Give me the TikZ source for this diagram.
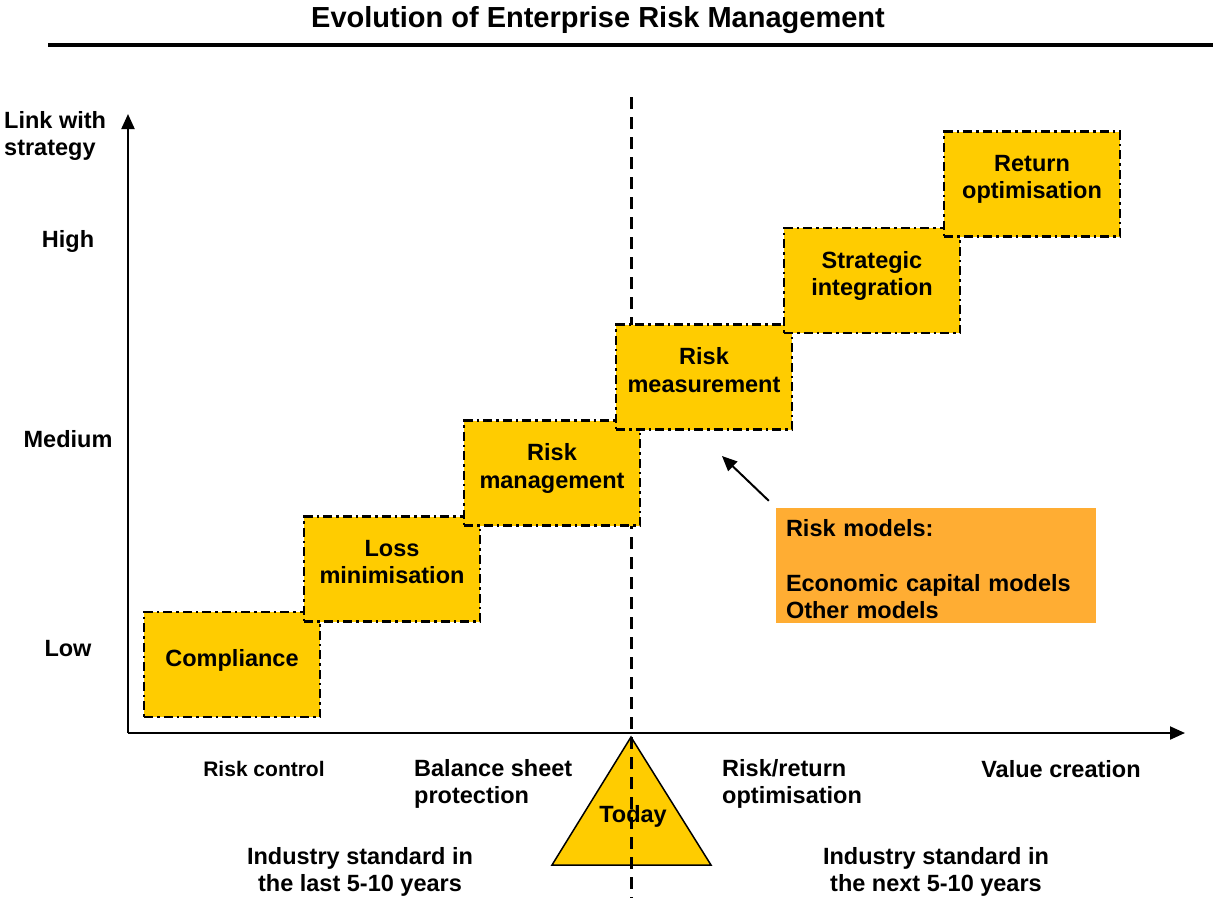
\documentclass[tikz,border=0pt]{standalone}
\usepackage{fontspec}
\setmainfont{Liberation Sans}
\usetikzlibrary{arrows.meta}
\definecolor{stageyellow}{HTML}{FFCC00}
\definecolor{modelorange}{HTML}{FFAD33}

\begin{document}
\begin{tikzpicture}[x=1pt,y=-1pt,>={Triangle[length=15pt,width=13pt]},
    every node/.style={font=\bfseries\fontsize{23.5}{27.5}\selectfont,inner sep=0pt},
    stage/.style={rectangle,fill=stageyellow,draw=black,line width=2.6pt,
      dash pattern=on 9pt off 4pt on 2.5pt off 4pt,minimum width=176pt,
      minimum height=105pt,text depth=14pt,align=center},
    axis/.style={line width=2pt,->}]
  \useasboundingbox (0,0) rectangle (1213,898);

  % title
  \node[font=\bfseries\fontsize{29}{34}\selectfont] (title) at (598,20) {Evolution of Enterprise Risk Management};
  \coordinate (rulel) at (48,45);
  \coordinate (ruler) at (1213,45);
  \draw[line width=4pt] (rulel) -- (ruler);

  % axes
  \coordinate (origin) at (128,733);
  \coordinate (ytop) at (128,114);
  \coordinate (xend) at (1185,733);
  \draw[axis] (origin) -- (ytop);
  \draw[axis] (origin) -- (xend);

  \node[align=left,anchor=west] (link) at (4,136) {Link with\\strategy};
  \node (high) at (68,241) {High};
  \node (medium) at (68,439) {Medium};
  \node (low) at (68,649) {Low};

  % today marker
  \coordinate (apex) at (631,737);
  \coordinate (basel) at (552,865);
  \coordinate (baser) at (711,865);
  \draw[fill=stageyellow,line width=1.5pt,line join=miter] (apex) -- (basel) -- (baser) -- cycle;
  \node (today) at (633,816) {Today};
  \coordinate (nowtop) at (631,97);
  \coordinate (nowbot) at (631,898);
  \draw[line width=3pt,dash pattern=on 12pt off 8pt] (nowtop) -- (nowbot);

  % stages
  \node[stage] (compliance) at (232,664.5) {Compliance};
  \node[stage] (loss) at (392,569) {Loss\\minimisation};
  \node[stage] (riskmgmt) at (552,473) {Risk\\management};
  \node[stage] (riskmeas) at (704,377) {Risk\\measurement};
  \node[stage] (strategic) at (872,280.5) {Strategic\\integration};
  \node[stage] (returnopt) at (1032,184) {Return\\optimisation};

  % risk models
  \node[fill=modelorange,minimum width=320pt,minimum height=115pt,text width=300pt,align=left] (models) at (936,565.5)
    {\rule{0pt}{24pt}Risk models:\\[27.5pt]Economic capital models\\Other models};
  \coordinate (modeltip) at (722,456);
  \draw[line width=2pt,->] ([xshift=-7pt,yshift=7pt]models.north west) -- (modeltip);

  % x axis labels
  \node[font=\bfseries\fontsize{21}{25}\selectfont] (riskctrl) at (264,769) {Risk control};
  \node[align=left,anchor=west] (balance) at (414,784) {Balance sheet\\protection};
  \node[align=left,anchor=west] (riskret) at (722,784) {Risk/return\\optimisation};
  \node (value) at (1061,769) {Value creation};
  \node[align=center] (pastind) at (360,872) {Industry standard in\\the last 5-10 years};
  \node[align=center] (nextind) at (936,872) {Industry standard in\\the next 5-10 years};
\end{tikzpicture}
\end{document}
